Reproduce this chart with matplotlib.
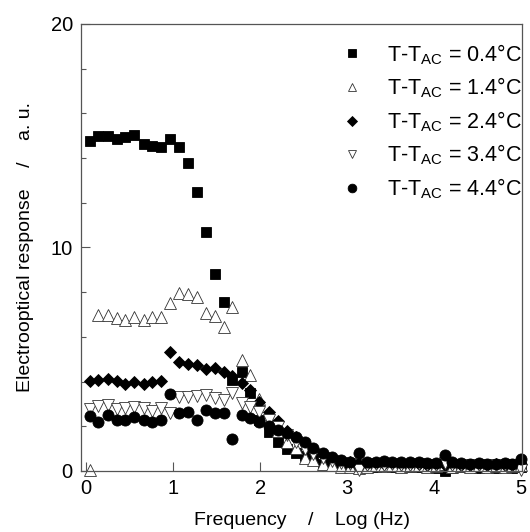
import numpy as np
import matplotlib
matplotlib.use('Agg')
import matplotlib.pyplot as plt
from matplotlib.ticker import MultipleLocator

plt.rcParams['font.family'] = ['Liberation Sans', 'DejaVu Sans']
plt.rcParams['mathtext.fontset'] = 'custom'
plt.rcParams['mathtext.rm'] = 'Liberation Sans'
plt.rcParams['mathtext.default'] = 'regular'

# frequency in log(Hz), shared by all runs
log_freq = [0.04, 0.14, 0.245, 0.35, 0.45, 0.55, 0.66, 0.755, 0.86, 0.965,
            1.07, 1.17, 1.27, 1.375, 1.475, 1.58, 1.68, 1.79, 1.885, 1.99,
            2.1, 2.2, 2.31, 2.41, 2.52, 2.61, 2.72, 2.82, 2.93, 3.03,
            3.13, 3.23, 3.33, 3.42, 3.52, 3.62, 3.72, 3.82, 3.92, 4.02,
            4.12, 4.21, 4.31, 4.41, 4.51, 4.61, 4.71, 4.81, 4.9, 5.0]

resp_04 = [14.75, 14.99, 15.0, 14.87, 14.96, 15.03, 14.62, 14.56, 14.51, 14.85,
           14.51, 13.8, 12.47, 10.71, 8.81, 7.57, 4.07, 4.44, 3.47, 2.3,
           1.76, 1.3, 1.0, 0.8, 0.65, 0.55, 0.3, 0.22, 0.2, 0.18,
           0.3, 0.22, 0.2, 0.22, 0.2, 0.22, 0.2, 0.18, 0.2, 0.15,
           0.0, 0.15, 0.18, 0.2, 0.15, 0.18, 0.15, 0.2, 0.15, 0.2]
resp_14 = [0.04, 6.98, 6.98, 6.83, 6.76, 6.88, 6.76, 6.88, 6.9, 7.5,
           7.98, 7.9, 7.77, 7.06, 6.95, 6.46, 7.35, 4.97, 4.3, 3.2,
           2.37, 1.8, 1.31, 1.01, 0.6, 0.49, 0.3, 0.25, 0.2, 0.2,
           0.15, 0.2, 0.25, 0.22, 0.25, 0.2, 0.22, 0.25, 0.2, 0.22,
           0.3, 0.2, 0.22, 0.2, 0.25, 0.2, 0.22, 0.2, 0.22, 0.25]
resp_24 = [4.03, 4.07, 4.1, 4.03, 3.88, 4.0, 3.9, 4.0, 4.03, 5.34,
           4.89, 4.77, 4.74, 4.56, 4.59, 4.44, 4.25, 3.92, 3.61, 3.08,
           2.63, 2.25, 1.8, 1.5, 1.24, 1.0, 0.75, 0.58, 0.45, 0.38,
           0.35, 0.33, 0.35, 0.33, 0.35, 0.32, 0.3, 0.3, 0.28, 0.3,
           0.28, 0.3, 0.28, 0.26, 0.3, 0.28, 0.3, 0.28, 0.26, 0.3]
resp_34 = [2.76, 2.9, 2.94, 2.78, 2.83, 2.87, 2.8, 2.7, 2.83, 2.61,
           3.32, 3.32, 3.36, 3.4, 3.28, 3.17, 3.47, 3.05, 2.85, 2.62,
           2.3, 1.95, 1.6, 1.3, 1.0, 0.78, 0.6, 0.45, 0.35, 0.3,
           0.04, 0.28, 0.3, 0.28, 0.3, 0.26, 0.28, 0.3, 0.26, 0.28,
           0.35, 0.28, 0.26, 0.28, 0.25, 0.28, 0.26, 0.25, 0.28, 0.05]
resp_44 = [2.47, 2.21, 2.52, 2.27, 2.26, 2.43, 2.3, 2.19, 2.26, 3.45,
           2.58, 2.62, 2.27, 2.75, 2.58, 2.58, 1.42, 2.5, 2.36, 2.2,
           2.0, 1.82, 1.7, 1.5, 1.3, 1.05, 0.8, 0.62, 0.5, 0.42,
           0.8, 0.42, 0.4, 0.45, 0.4, 0.42, 0.4, 0.38, 0.35, 0.35,
           0.72, 0.38, 0.35, 0.33, 0.35, 0.3, 0.32, 0.35, 0.3, 0.55]

labels = ['T-T$_{AC}$ = 0.4\u00b0C', 'T-T$_{AC}$ = 1.4\u00b0C', 'T-T$_{AC}$ = 2.4\u00b0C',
          'T-T$_{AC}$ = 3.4\u00b0C', 'T-T$_{AC}$ = 4.4\u00b0C']

fig = plt.figure(figsize=(5.3, 5.32), dpi=100)
ax = fig.add_axes([0.153, 0.1147, 0.832, 0.8403])

# marker, size, filled
styles = [('s', 7.5, True), ('^', 8, False), ('D', 6.5, True), ('v', 8, False), ('o', 8, True)]
series = [resp_04, resp_14, resp_24, resp_34, resp_44]

for ys, lab, (m, ms, filled) in zip(series, labels, styles):
    ax.plot(log_freq, ys, linestyle='none', marker=m, markersize=ms,
            markerfacecolor='black' if filled else 'white',
            markeredgecolor='black' if filled else '#333333',
            markeredgewidth=0.6, label=lab, clip_on=False)

ax.set_xlim(-0.06, 5.01)
ax.set_ylim(0, 20)
ax.xaxis.set_major_locator(MultipleLocator(1))
ax.yaxis.set_major_locator(MultipleLocator(10))
ax.yaxis.set_minor_locator(MultipleLocator(2))
ax.tick_params(axis='both', which='major', direction='in', length=6.5, width=0.8,
               color='#555555', labelsize=14.5, pad=6)
ax.tick_params(axis='both', which='minor', direction='in', length=3.5, width=0.8,
               color='#555555')
for sp in ax.spines.values():
    sp.set_color('#555555')
    sp.set_linewidth(0.9)

ax.set_xlabel('Frequency    /    Log (Hz)', fontsize=14, labelpad=10)
ax.set_ylabel('Electrooptical response    /    a. u.', fontsize=14, labelpad=12)

ax.legend(loc='upper right', bbox_to_anchor=(1.018, 0.979), borderaxespad=0,
          frameon=False, fontsize=15.5, markerscale=0.78,
          labelspacing=0.42, handletextpad=0.6)

plt.savefig('out.png', dpi=100)
